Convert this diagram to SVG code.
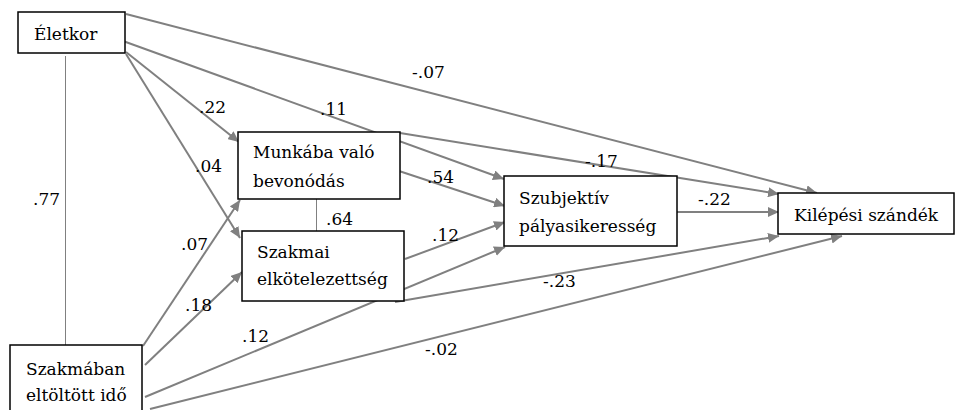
<svg xmlns="http://www.w3.org/2000/svg" width="955" height="410" viewBox="0 0 955 410">
<style>
.box{fill:#fff;stroke:#000;stroke-width:1.5}
text{font-family:'DejaVu Serif',serif;font-size:17px;fill:#000}
.c{stroke:#808080;stroke-width:2;fill:none;marker-end:url(#arr)}
.r{stroke:#808080;stroke-width:1;fill:none}
</style>
<defs>
<marker id="arr" markerUnits="userSpaceOnUse" markerWidth="12" markerHeight="10" refX="11" refY="5" orient="auto">
<path d="M0,0 L11,5 L0,10 Z" fill="#808080"/>
</marker>
</defs>
<rect width="955" height="410" fill="#fff"/>
<g id="connectors">
<line class="r" x1="65.5" y1="56" x2="65.5" y2="345"/>
<line class="r" x1="316.5" y1="199" x2="316.5" y2="231"/>
<line class="c" x1="126" y1="14" x2="817" y2="193"/>
<line class="c" x1="123" y1="41" x2="504" y2="179"/>
<line class="c" x1="126" y1="52" x2="239" y2="142"/>
<line class="c" x1="126" y1="54" x2="240" y2="238"/>
<line class="c" x1="400" y1="133" x2="779" y2="194"/>
<line class="c" x1="399" y1="171" x2="505" y2="206"/>
<line class="c" x1="405" y1="259" x2="505" y2="222"/>
<line class="c" x1="395" y1="302" x2="779" y2="236"/>
<line class="c" x1="677" y1="212" x2="779" y2="212"/>
<line class="c" x1="143" y1="346" x2="240" y2="200"/>
<line class="c" x1="145" y1="365" x2="242" y2="272"/>
<line class="c" x1="145" y1="397" x2="505" y2="247"/>
<line class="c" x1="150" y1="409" x2="842" y2="236"/>
</g>
<g id="labels">
<text x="33" y="205">.77</text>
<text x="199" y="113">.22</text>
<text x="195" y="172">.04</text>
<text x="320" y="115">.11</text>
<text x="412" y="78">-.07</text>
<text x="585" y="167">-.17</text>
<text x="427" y="183">.54</text>
<text x="326" y="225">.64</text>
<text x="432" y="241">.12</text>
<text x="698" y="205">-.22</text>
<text x="181" y="250">.07</text>
<text x="185" y="311">.18</text>
<text x="242" y="342">.12</text>
<text x="543" y="287">-.23</text>
<text x="425" y="355">-.02</text>
</g>
<g id="eletkor">
<rect class="box" x="18" y="12" width="107" height="41"/>
<text x="34" y="40">Életkor</text>
</g>
<g id="munkaba">
<rect class="box" x="238" y="132" width="162" height="67"/>
<text x="253" y="158">Munkába való</text>
<text x="253" y="187">bevonódás</text>
</g>
<g id="szakmai">
<rect class="box" x="242" y="231" width="162" height="70"/>
<text x="257" y="258">Szakmai</text>
<text x="257" y="285">elkötelezettség</text>
</g>
<g id="szubjektiv">
<rect class="box" x="504" y="176" width="173" height="70"/>
<text x="519" y="204">Szubjektív</text>
<text x="519" y="232">pályasikeresség</text>
</g>
<g id="kilepesi">
<rect class="box" x="778" y="193" width="176" height="41"/>
<text x="794" y="221">Kilépési szándék</text>
</g>
<g id="szakmaban">
<rect class="box" x="10" y="345" width="132" height="70"/>
<text x="26" y="375">Szakmában</text>
<text x="26" y="401">eltöltött idő</text>
</g>
</svg>
